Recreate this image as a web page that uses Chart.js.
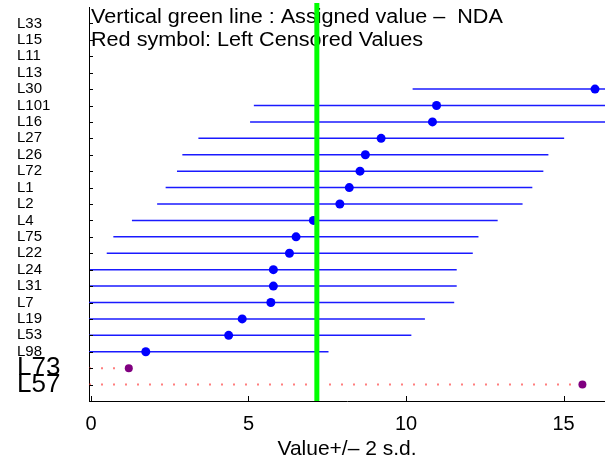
<!DOCTYPE html>
<html>
<head>
<meta charset="utf-8">
<script src="https://cdn.jsdelivr.net/npm/chart.js@4.4.0/dist/chart.umd.min.js"></script>
<style>
  html, body { margin: 0; padding: 0; background: #fff; }
  canvas { display: block; }
</style>
</head>
<body>
<canvas id="labChart" width="605" height="464"></canvas>
<script>
// ============================================================
// Lab results — value +/- 2 s.d. per laboratory
// ============================================================

// ── Data ─────────────────────────────────────────────────────
const labs   = ['L33', 'L15', 'L11', 'L13', 'L30', 'L101', 'L16', 'L27', 'L26', 'L72', 'L1', 'L2',
                'L4', 'L75', 'L22', 'L24', 'L31', 'L7', 'L19', 'L53', 'L98', 'L73', 'L57'];
const values = [null, null, null, null, 16.0, 10.97, 10.84, 9.21, 8.71, 8.54, 8.2, 7.9,
                7.06, 6.51, 6.30, 5.79, 5.79, 5.71, 4.80, 4.37, 1.74, null, null];
const lower  = [null, null, null, null, 10.21, 5.17, 5.05, 3.41, 2.9, 2.73, 2.37, 2.1,
                1.30, 0.71, 0.50, -0.03, -0.03, -0.11, -1.0, -1.43, -4.06, null, null];
const upper  = [null, null, null, null, 21.8, 16.8, 16.6, 15.02, 14.52, 14.36, 14.01, 13.70,
                12.91, 12.30, 12.12, 11.61, 11.61, 11.53, 10.6, 10.17, 7.54, null, null];

const censLabs   = ['L73', 'L57'];     // left censored
const censValues = [1.20, 15.6];

const assigned = 7.17;                 // NDA
const xTicks   = [0, 5, 10, 15];
const notes    = ['Vertical green line : Assigned value \u2013  NDA', 'Red symbol: Left Censored Values'];
const bigLabs  = ['L73', 'L57'];

// ── Style helpers ────────────────────────────────────────────
const FONT = '"Liberation Sans", Arial, Helvetica, sans-serif';
const X_MIN = -0.063;
const X_MAX = 16.317;
const rowOf = (lab) => labs.indexOf(lab) + 1;

// ── Datasets ─────────────────────────────────────────────────
const datasets = [];

// assigned value line (on top)
datasets.push({
  data: [{ x: assigned, y: -0.25 }, { x: assigned, y: labs.length + 1 }],
  showLine: true, borderColor: '#00ff00', borderWidth: 5, pointRadius: 0, order: 0,
  clip: { left: 0, right: 0, top: 6, bottom: 0 }
});

// intervals
labs.forEach((lab, i) => {
  if (values[i] == null) return;
  datasets.push({
    data: [{ x: lower[i], y: i + 1 }, { x: upper[i], y: i + 1 }],
    showLine: true, borderColor: '#1a1aff', borderWidth: 1.5, pointRadius: 0, order: 3
  });
});

// point values
datasets.push({
  data: labs.map((lab, i) => values[i] == null ? null : { x: values[i], y: i + 1 }).filter(Boolean),
  backgroundColor: '#0000ff', borderWidth: 0, pointRadius: 4.5, order: 2
});

// censored: dotted line from axis + purple symbol
censLabs.forEach((lab, i) => {
  datasets.push({
    data: [{ x: X_MIN, y: rowOf(lab) }, { x: censValues[i], y: rowOf(lab) }],
    showLine: true, borderColor: 'rgba(255,40,40,0.6)', borderWidth: 2,
    borderDash: [2, 10], pointRadius: 0, order: 3
  });
});
datasets.push({
  data: censLabs.map((lab, i) => ({ x: censValues[i], y: rowOf(lab) })),
  backgroundColor: '#800080', borderWidth: 0, pointRadius: 4, order: 2
});

// ── Decorations: inward ticks + notes ────────────────────────
const decorations = {
  id: 'decorations',
  beforeDatasetsDraw(chart) {
    const { ctx, chartArea } = chart;
    ctx.save();
    ctx.fillStyle = '#000';
    ctx.font = '20px ' + FONT;
    ctx.textBaseline = 'middle';
    notes.forEach((t, i) => {
      ctx.save();
      ctx.translate(chartArea.left + 2, 17 + i * 23);
      ctx.scale(1.08, 1);           // text in the source is a bit wider
      ctx.fillText(t, 0, 0);
      ctx.restore();
    });
    ctx.restore();
  },
  afterDraw(chart) {
    const { ctx, chartArea, scales: { x, y } } = chart;
    ctx.save();
    ctx.strokeStyle = '#000';
    ctx.lineWidth = 1;
    ctx.beginPath();
    y.ticks.forEach(t => {
      const py = Math.round(y.getPixelForValue(t.value)) + 0.5;
      ctx.moveTo(chartArea.left, py);
      ctx.lineTo(chartArea.left + 4, py);
    });
    xTicks.forEach(v => {
      const px = Math.round(x.getPixelForValue(v)) + 0.5;
      ctx.moveTo(px, chartArea.bottom);
      ctx.lineTo(px, chartArea.bottom - 5);
    });
    ctx.stroke();
    ctx.restore();
  }
};

// ── Chart ────────────────────────────────────────────────────
new Chart(document.getElementById('labChart'), {
  type: 'scatter',
  data: { datasets: datasets },
  plugins: [decorations],
  options: {
    responsive: false,
    animation: false,
    devicePixelRatio: 1,
    layout: { autoPadding: false, padding: { left: 17, right: 0, top: 7, bottom: 0 } },
    plugins: { legend: { display: false }, tooltip: { enabled: false } },
    scales: {
      x: {
        type: 'linear',
        min: X_MIN,
        max: X_MAX,
        afterBuildTicks: (scale) => { scale.ticks = xTicks.map(v => ({ value: v })); },
        afterFit: (scale) => { scale.height = 63; scale.paddingLeft = 0; scale.paddingRight = 0; },
        grid: { display: false, drawTicks: false },
        border: { display: true, color: '#000', width: 1 },
        ticks: { color: '#000', padding: 11, autoSkip: false, maxRotation: 0,
                 font: { family: FONT, size: 20 } },
        title: { display: true, text: 'Value+/\u2013 2 s.d.', color: '#000',
                 font: { family: FONT, size: 21 }, padding: { top: 0, bottom: 2 } }
      },
      y: {
        type: 'linear',
        reverse: true,
        min: 0,
        max: labs.length + 1,
        afterBuildTicks: (scale) => { scale.ticks = labs.map((l, i) => ({ value: i + 1 })); },
        afterFit: (scale) => { scale.width = 72; scale.paddingTop = 0; scale.paddingBottom = 0; },
        grid: { display: false, drawTicks: false },
        border: { display: true, color: '#000', width: 1 },
        ticks: {
          color: '#000',
          autoSkip: false,
          crossAlign: 'far',
          callback: (v) => labs[v - 1],
          font: (c) => ({ family: FONT, size: c.tick && bigLabs.includes(labs[c.tick.value - 1]) ? 26 : 15 })
        }
      }
    }
  }
});
</script>
</body>
</html>
